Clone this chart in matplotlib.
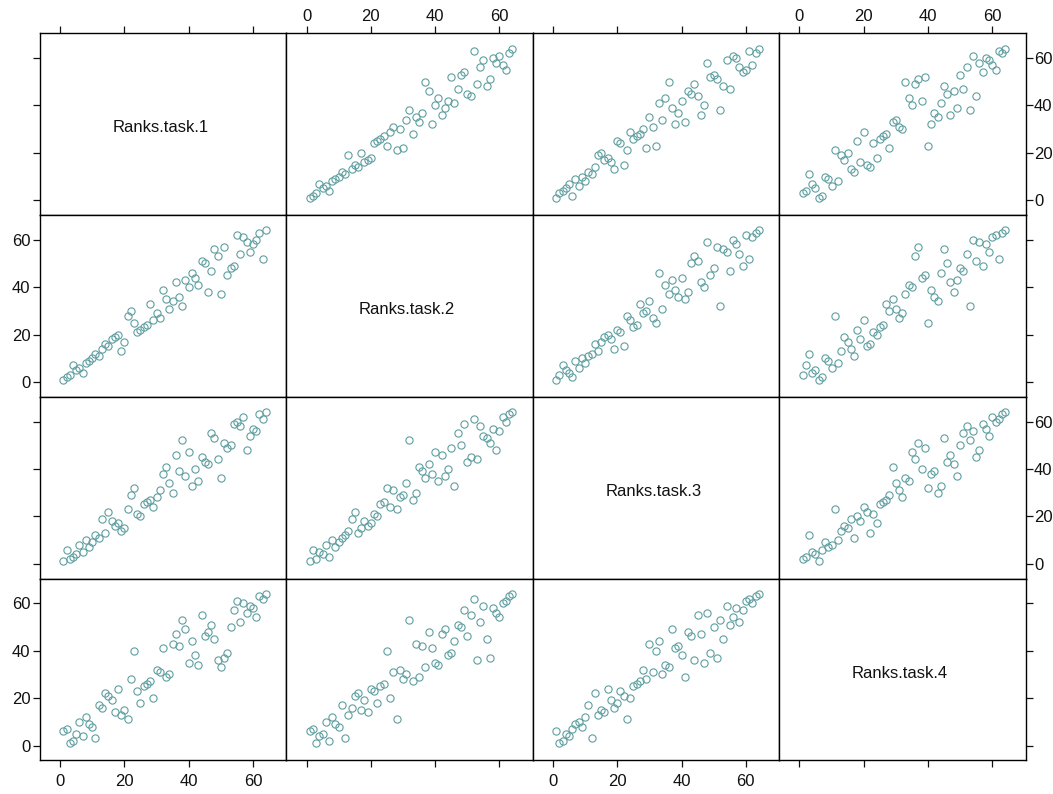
import matplotlib
matplotlib.use("Agg")
import matplotlib.pyplot as plt

plt.rcParams['font.family'] = ['Liberation Sans', 'DejaVu Sans']

# ranks of the 64 items for each task (items ordered by task 1)
task1 = list(range(1, 65))
task2 = [1, 2, 3, 7, 5, 6, 4, 8, 9, 10, 12, 11, 14, 16, 15, 18, 19, 20, 13, 17,
         28, 30, 25, 21, 22, 23, 24, 33, 26, 29, 27, 39, 35, 31, 34, 42, 36, 32, 43, 40,
         46, 44, 41, 51, 50, 38, 47, 56, 53, 37, 57, 45, 48, 49, 62, 54, 61, 59, 55, 58,
         60, 63, 52, 64]
task3 = [1, 6, 2, 3, 4, 8, 5, 10, 7, 9, 12, 11, 19, 13, 22, 18, 16, 17, 14, 15,
         23, 29, 32, 21, 20, 25, 26, 27, 24, 28, 31, 38, 41, 34, 30, 46, 39, 52, 37, 47,
         33, 40, 35, 45, 43, 42, 55, 53, 44, 36, 51, 49, 50, 59, 60, 58, 62, 48, 54, 57,
         56, 63, 61, 64]
task4 = [6, 7, 1, 2, 5, 10, 4, 12, 9, 8, 3, 17, 16, 22, 21, 19, 14, 24, 13, 15,
         11, 28, 40, 23, 18, 25, 26, 27, 20, 32, 31, 41, 29, 30, 43, 47, 42, 53, 49, 35,
         44, 38, 34, 55, 46, 48, 51, 45, 36, 33, 37, 39, 50, 57, 61, 52, 60, 56, 59, 58,
         54, 63, 62, 64]

names = ['Ranks.task.1', 'Ranks.task.2', 'Ranks.task.3', 'Ranks.task.4']
tasks = [task1, task2, task3, task4]
ticks = [0, 20, 40, 60]

fig, axes = plt.subplots(4, 4, figsize=(10.53, 7.94), dpi=100)
fig.subplots_adjust(left=0.038, right=0.9741, top=0.958, bottom=0.0424,
                    wspace=0, hspace=0)

n = len(tasks)
for i in range(n):
    for j in range(n):
        ax = axes[i, j]
        ax.set_xlim(-6.25, 70.4)
        ax.set_ylim(-6.25, 70.4)
        ax.set_xticks(ticks)
        ax.set_yticks(ticks)
        if i == j:
            ax.text(0.49, 0.48, names[i], transform=ax.transAxes,
                    ha='center', va='center', fontsize=12, color='#111111')
        else:
            ax.plot(tasks[j], tasks[i], 'o', mfc='none', mec='#5f9ea0',
                    ms=5.2, mew=0.8)
        ax.tick_params(direction='out', length=5, width=0.9, labelsize=12,
                       colors='#111111',
                       top=(i == 0), bottom=(i == n - 1),
                       left=(j == 0), right=(j == n - 1),
                       labeltop=(i == 0 and j % 2 == 1),
                       labelbottom=(i == n - 1 and j % 2 == 0),
                       labelleft=(j == 0 and i % 2 == 1),
                       labelright=(j == n - 1 and i % 2 == 0))
        # R-style label spacing: tight at top/right, looser at bottom
        ax.tick_params(axis='x', pad=1.5 if i == 0 else 5)
        ax.tick_params(axis='y', pad=1 if j == n - 1 else 2)
        for sp in ax.spines.values():
            sp.set_linewidth(1.0)
            sp.set_color('black')

fig.savefig('out.png', dpi=100)
